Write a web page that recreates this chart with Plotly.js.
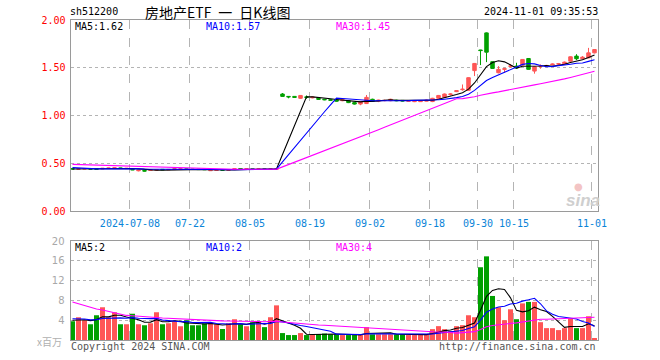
<!DOCTYPE html>
<html><head><meta charset="utf-8">
<script src="https://cdn.plot.ly/plotly-3.0.1.min.js"></script>
<style>html,body{margin:0;padding:0;background:#fff}#chart{width:660px;height:360px}</style>
</head><body><div id="chart"></div>
<script>
// ---- data ----
const dates = [
 '2024-06-24','2024-06-25','2024-06-26','2024-06-27','2024-06-28',
 '2024-07-01','2024-07-02','2024-07-03','2024-07-04','2024-07-05','2024-07-08','2024-07-09','2024-07-10','2024-07-11','2024-07-12',
 '2024-07-15','2024-07-16','2024-07-17','2024-07-18','2024-07-19','2024-07-22','2024-07-23','2024-07-24','2024-07-25','2024-07-26',
 '2024-07-29','2024-07-30','2024-07-31','2024-08-01','2024-08-02','2024-08-05','2024-08-06','2024-08-07','2024-08-08','2024-08-09',
 '2024-08-12','2024-08-13','2024-08-14','2024-08-15','2024-08-16','2024-08-19','2024-08-20','2024-08-21','2024-08-22','2024-08-23',
 '2024-08-26','2024-08-27','2024-08-28','2024-08-29','2024-08-30','2024-09-02','2024-09-03','2024-09-04','2024-09-05','2024-09-06',
 '2024-09-09','2024-09-10','2024-09-11','2024-09-12','2024-09-13','2024-09-18','2024-09-19','2024-09-20','2024-09-23','2024-09-24',
 '2024-09-25','2024-09-26','2024-09-27','2024-09-30','2024-10-08','2024-10-09','2024-10-10','2024-10-11','2024-10-14','2024-10-15',
 '2024-10-16','2024-10-17','2024-10-18','2024-10-21','2024-10-22','2024-10-23','2024-10-24','2024-10-25','2024-10-28','2024-10-29',
 '2024-10-30','2024-10-31','2024-11-01'
];
const openP = [
 .443,.438,.440,.443,.441,.440,.446,.448,.451,.444,.436,.421,.424,.425,.428,.436,.431,.434,.438,.441,
 .438,.437,.436,.422,.424,.430,.427,.436,.445,.438,.441,.437,.440,.436,.438,
 1.225,1.200,1.200,1.180,1.195,1.185,1.180,1.170,1.165,1.165,1.155,1.155,1.135,1.120,1.125,
 1.170,1.150,1.155,1.155,1.160,1.158,1.148,1.145,1.145,1.150,1.146,1.180,1.190,1.220,1.250,
 1.270,1.264,1.470,1.686,1.865,1.563,1.448,1.483,1.515,1.517,1.528,1.597,1.465,1.515,1.520,
 1.530,1.538,1.542,1.569,1.622,1.594,1.604,1.656
];
const highP = [
 .445,.443,.444,.444,.442,.448,.451,.453,.452,.448,.437,.429,.425,.431,.435,.437,.436,.443,.442,.442,
 .439,.438,.437,.429,.428,.431,.431,.444,.446,.443,.442,.441,.441,.442,.443,
 1.235,1.202,1.203,1.212,1.210,1.196,1.186,1.172,1.170,1.170,1.172,1.160,1.140,1.150,1.215,
 1.176,1.165,1.166,1.175,1.165,1.160,1.158,1.160,1.155,1.166,1.185,1.215,1.230,1.232,1.265,
 1.325,1.400,1.550,1.688,1.870,1.565,1.517,1.500,1.538,1.552,1.590,1.600,1.515,1.535,1.530,
 1.545,1.550,1.565,1.620,1.642,1.622,1.708,1.695
];
const lowP = [
 .436,.437,.439,.438,.436,.439,.445,.447,.445,.443,.429,.415,.414,.424,.427,.431,.430,.433,.437,.436,
 .434,.433,.432,.420,.423,.426,.426,.435,.439,.437,.437,.436,.436,.435,.437,
 1.198,1.180,1.185,1.175,1.175,1.180,1.165,1.160,1.155,1.145,1.150,1.130,1.115,1.108,1.120,
 1.145,1.140,1.150,1.150,1.150,1.148,1.145,1.140,1.142,1.148,1.140,1.178,1.188,1.210,1.245,
 1.260,1.260,1.413,1.528,1.559,1.490,1.441,1.448,1.500,1.490,1.525,1.480,1.438,1.490,1.510,
 1.525,1.530,1.535,1.565,1.580,1.590,1.600,1.650
];
const closeP = [
 .440,.442,.443,.439,.437,.447,.450,.452,.446,.447,.431,.428,.418,.430,.434,.432,.435,.442,.441,.437,
 .435,.434,.433,.428,.427,.427,.430,.443,.440,.442,.438,.440,.437,.441,.442,
 1.200,1.195,1.190,1.210,1.190,1.192,1.170,1.165,1.160,1.150,1.165,1.135,1.120,1.145,1.190,
 1.150,1.160,1.158,1.170,1.155,1.152,1.155,1.150,1.152,1.160,1.180,1.210,1.225,1.225,1.260,
 1.275,1.396,1.545,1.680,1.663,1.493,1.483,1.490,1.518,1.497,1.587,1.483,1.510,1.517,1.524,
 1.538,1.542,1.559,1.615,1.594,1.611,1.656,1.691
];
// volume, millions of shares
const volume = [
 3.8,4.6,4.0,3.2,5.0,6.6,4.6,5.6,3.2,3.2,5.3,3.2,3.0,3.4,5.6,3.2,3.4,3.8,2.8,4.0,
 3.0,3.0,3.4,3.4,3.2,2.2,3.4,4.2,3.2,2.8,3.6,3.8,2.6,4.6,7.0,
 1.4,1.0,1.0,1.4,1.0,1.2,1.2,1.3,1.15,1.15,1.0,1.0,1.0,1.0,2.6,
 1.15,1.15,1.15,1.15,1.15,1.15,1.0,1.0,1.15,1.15,2.2,2.8,2.2,1.8,2.8,
 3.0,5.0,4.6,14.7,16.9,8.9,6.6,4.0,6.2,4.2,7.4,7.7,7.7,3.6,2.4,
 2.4,2.0,2.4,4.4,2.4,2.4,4.8,0.4
];
// sessions before the visible window (estimated from where the MA lines start)
const priorCloses = [
 .50,.50,.51,.50,.50,.49,.50,.50,.50,.50,
 .52,.52,.52,.52,.51,.51,.51,.50,.50,.49,.49,
 .47,.47,.46,.45,.44,.44,.44,.44
];
const priorVolumes = [
 16,15,14,14,13,13,12,12,12,
 7.5,7,6.5,6.5,6,6,5.5,5.5,5.5,5,5,
 4.8,4.5,4.8,4.6,4.3,4.2,4.0,4.0,4.0
];
const tickDates  = ['2024-07-08','2024-07-22','2024-08-05','2024-08-19','2024-09-02','2024-09-18','2024-09-30','2024-10-15','2024-11-01'];
const tickLabels = ['2024-07-08','07-22','08-05','08-19','09-02','09-18','09-30','10-15','11-01'];
const priceTicks = [0, 0.5, 1, 1.5, 2];
const priceTickLabels = ['0.00','0.50','1.00','1.50','2.00'];
const volTicks = [4, 8, 12, 16, 20];
const volTickLabels = ['4','8','12','16','20'];
const priceMaLabels = ['MA5:1.62','MA10:1.57','MA30:1.45'];
const volMaLabels = ['MA5:2','MA10:2','MA30:4'];
const maPeriods = [5, 10, 30];

// ---- build ----
const RED = '#ff5656', GREEN = '#00a000';
const MA_COLORS = ['#000000', '#0000ff', '#ff00ff'];
const MONO = 'DejaVu Sans Mono, monospace';
const idx = dates.map((d, i) => i);

function movingAverage(values, prior, n) {
  const all = prior.concat(values);
  return values.map((v, i) => {
    const end = prior.length + i;
    let s = 0;
    for (let j = end - n + 1; j <= end; j++) s += all[j];
    return s / n;
  });
}

const traces = [];
traces.push({
  type: 'candlestick', x: idx, open: openP, high: highP, low: lowP, close: closeP,
  xaxis: 'x', yaxis: 'y', whiskerwidth: 0, hoverinfo: 'skip',
  increasing: {line: {color: RED, width: 1}, fillcolor: RED},
  decreasing: {line: {color: GREEN, width: 1}, fillcolor: GREEN}
});
maPeriods.forEach((n, k) => {
  traces.push({type: 'scatter', mode: 'lines', x: idx, y: movingAverage(closeP, priorCloses, n),
    xaxis: 'x', yaxis: 'y', line: {color: MA_COLORS[k], width: 1.1}, hoverinfo: 'skip'});
});
traces.push({
  type: 'bar', x: idx, y: volume, xaxis: 'x2', yaxis: 'y2', hoverinfo: 'skip',
  marker: {color: closeP.map((c, i) => c >= openP[i] ? RED : GREEN), line: {width: 0}}
});
maPeriods.forEach((n, k) => {
  traces.push({type: 'scatter', mode: 'lines', x: idx, y: movingAverage(volume, priorVolumes, n),
    xaxis: 'x2', yaxis: 'y2', line: {color: MA_COLORS[k], width: 1.1}, hoverinfo: 'skip'});
});

const W = 660, H = 360;
const px = x => x / W, py = y => 1 - y / H;
const xDomain = [px(70.5), px(598)];
const xRange = [-0.333, 87.583];
const tickVals = tickDates.map(d => dates.indexOf(d) - 0.42);
const FRAME = '#9a9a9a', GRID = '#b4b4b4';

const xCommon = {
  domain: xDomain, range: xRange, tickvals: tickVals, ticktext: tickLabels,
  showgrid: true, gridcolor: GRID, griddash: 'dash', gridwidth: 1,
  zeroline: false, showline: true, linecolor: FRAME, linewidth: 1, mirror: true,
  ticks: '', fixedrange: true, rangeslider: {visible: false}
};
const layout = {
  width: W, height: H, margin: {l: 0, r: 0, t: 0, b: 0},
  paper_bgcolor: '#ffffff', plot_bgcolor: '#ffffff', showlegend: false,
  boxgap: 0.17, bargap: 0.17,
  xaxis: Object.assign({}, xCommon, {anchor: 'y', ticklabelstandoff: 3,
    tickfont: {family: MONO, size: 10, color: '#0a84d8'}}),
  xaxis2: Object.assign({}, xCommon, {anchor: 'y2', showticklabels: false}),
  yaxis: {domain: [py(211), py(20)], range: [0, 2], anchor: 'x',
    tickvals: priceTicks, ticktext: priceTickLabels,
    tickfont: {family: MONO, size: 10, color: '#ff0000'},
    showgrid: true, gridcolor: GRID, griddash: 'dot', zeroline: false,
    showline: true, linecolor: FRAME, linewidth: 1, mirror: true,
    ticks: 'outside', ticklen: 2, tickcolor: 'rgba(0,0,0,0)', fixedrange: true},
  yaxis2: {domain: [py(340), py(241)], range: [0, 20], anchor: 'x2',
    tickvals: volTicks, ticktext: volTickLabels,
    tickfont: {family: 'DejaVu Sans, sans-serif', size: 10, color: '#a8a8a8'},
    showgrid: true, gridcolor: GRID, griddash: 'dot', zeroline: false,
    showline: true, linecolor: FRAME, linewidth: 1, mirror: true,
    ticks: 'outside', ticklen: 3, tickcolor: 'rgba(0,0,0,0)', fixedrange: true},
  annotations: []
};

function note(text, x, y, anchor, color, size, family, extra) {
  layout.annotations.push(Object.assign({
    text: text, xref: 'paper', yref: 'paper', x: px(x), y: py(y),
    xanchor: anchor, yanchor: 'middle', showarrow: false,
    font: {family: family || MONO, size: size || 10, color: color || '#000'}
  }, extra || {}));
}
note('sh512200', 68, 12, 'left', '#000', 10);
note('房地产ETF\u2002一\u2002日K线图', 217, 12, 'center', '#000', 14, 'Noto Sans CJK SC');
note('2024-11-01 09:35:53', 600, 12, 'right', '#000', 10);
const maX = [73, 204, 334];
priceMaLabels.forEach((t, k) => note(t, maX[k], 27, 'left', MA_COLORS[k], 10));
volMaLabels.forEach((t, k) => note(t, maX[k], 247, 'left', MA_COLORS[k], 10));
note('x百万', 64, 341, 'right', '#b0b0b0', 10, 'Noto Sans CJK SC');
note('Copyright 2024 SINA.COM', 69, 346, 'left', '#555', 10);
note('http://finance.sina.com.cn', 598, 346, 'right', '#555', 10);
note('<b><i>sina</i></b>', 583, 200, 'center', '#cfcfcf', 17, 'Liberation Sans');
note('●', 578, 186, 'center', '#f3c4c4', 10, 'DejaVu Sans');

Plotly.newPlot('chart', traces, layout, {staticPlot: true, displayModeBar: false});
</script></body></html>
